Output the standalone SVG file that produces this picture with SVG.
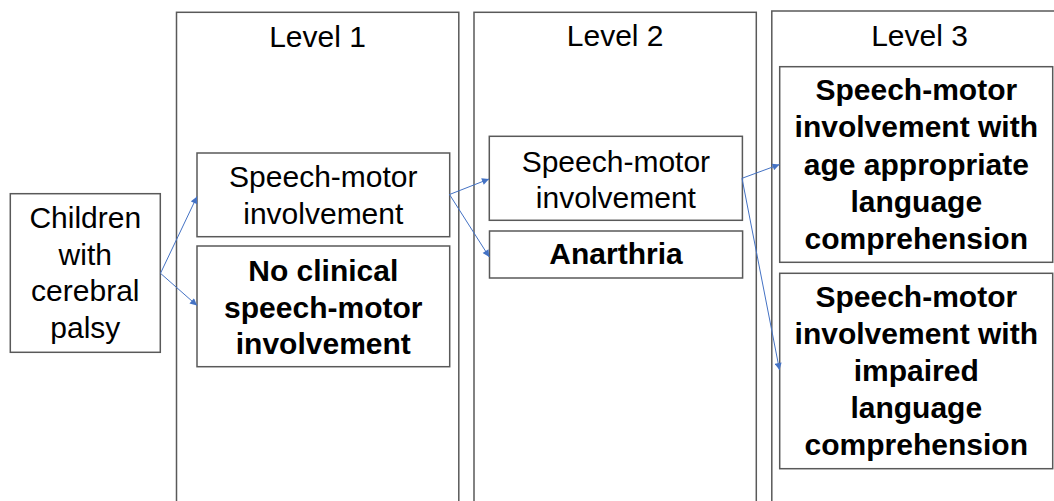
<svg xmlns="http://www.w3.org/2000/svg" width="1054" height="501" viewBox="0 0 1054 501">
<style>
.col{fill:#ffffff;stroke:#595959;stroke-width:1.5}
.box{fill:#ffffff;stroke:#595959;stroke-width:1.5}
.t{font-family:"Liberation Sans",Arial,sans-serif;font-size:30px;fill:#000000;text-anchor:middle}
.b{font-weight:bold}
.conn{stroke:#4472C4;stroke-width:1;fill:none;marker-end:url(#ah)}
</style>
<defs>
<marker id="ah" viewBox="0 0 10 10" refX="10" refY="5" markerWidth="9" markerHeight="7" markerUnits="userSpaceOnUse" orient="auto">
<path d="M0,0 L10,5 L0,10 Z" fill="#4472C4"/>
</marker>
</defs>
<rect width="1054" height="501" fill="#ffffff"/>
<g id="level1">
<rect class="col" x="176.5" y="12.3" width="282.3" height="500"/>
<text class="t" x="317.5" y="46.5">Level 1</text>
</g>
<g id="level2">
<rect class="col" x="474" y="12.3" width="282.3" height="500"/>
<text class="t" x="615.2" y="46">Level 2</text>
</g>
<g id="level3">
<rect class="col" x="771.8" y="11" width="295" height="500"/>
<text class="t" x="919.5" y="45.7">Level 3</text>
</g>
<g id="children">
<rect class="box" x="10.3" y="193.7" width="150" height="158.6"/>
<text class="t" x="85.3" y="228.3">Children</text>
<text class="t" x="85.3" y="264.8">with</text>
<text class="t" x="85.3" y="301.3">cerebral</text>
<text class="t" x="85.3" y="337.8">palsy</text>
</g>
<g id="l1-speech">
<rect class="box" x="197" y="153" width="252.7" height="83.7"/>
<text class="t" x="323.3" y="187">Speech-motor</text>
<text class="t" x="323.3" y="224">involvement</text>
</g>
<g id="l1-noclinical">
<rect class="box" x="197" y="246" width="252.7" height="120.7"/>
<text class="t b" x="323.3" y="280.7">No clinical</text>
<text class="t b" x="323.3" y="317.5">speech-motor</text>
<text class="t b" x="323.3" y="354.3">involvement</text>
</g>
<g id="l2-speech">
<rect class="box" x="489.3" y="136.3" width="253.1" height="84"/>
<text class="t" x="615.9" y="171.7">Speech-motor</text>
<text class="t" x="615.9" y="208">involvement</text>
</g>
<g id="l2-anarthria">
<rect class="box" x="489.5" y="231" width="253.1" height="47"/>
<text class="t b" x="616" y="264.3">Anarthria</text>
</g>
<g id="l3-age">
<rect class="box" x="779.7" y="66.7" width="273" height="195.6"/>
<text class="t b" x="916.3" y="100">Speech-motor</text>
<text class="t b" x="916.3" y="137.2">involvement with</text>
<text class="t b" x="916.3" y="174.5">age appropriate</text>
<text class="t b" x="916.3" y="211.7">language</text>
<text class="t b" x="916.3" y="249">comprehension</text>
</g>
<g id="l3-impaired">
<rect class="box" x="779.7" y="273.3" width="273" height="195.4"/>
<text class="t b" x="916.3" y="306.7">Speech-motor</text>
<text class="t b" x="916.3" y="343.9">involvement with</text>
<text class="t b" x="916.3" y="381">impaired</text>
<text class="t b" x="916.3" y="418.2">language</text>
<text class="t b" x="916.3" y="455.3">comprehension</text>
</g>
<g id="connectors">
<line class="conn" x1="160.5" y1="273.3" x2="197" y2="196.5"/>
<line class="conn" x1="160.5" y1="273.3" x2="197" y2="305.5"/>
<line class="conn" x1="449.5" y1="194.5" x2="489" y2="179"/>
<line class="conn" x1="449.5" y1="194.5" x2="489.3" y2="257"/>
<line class="conn" x1="742" y1="178.3" x2="779.5" y2="164.5"/>
<line class="conn" x1="742" y1="178.3" x2="779.5" y2="370"/>
</g>
</svg>
